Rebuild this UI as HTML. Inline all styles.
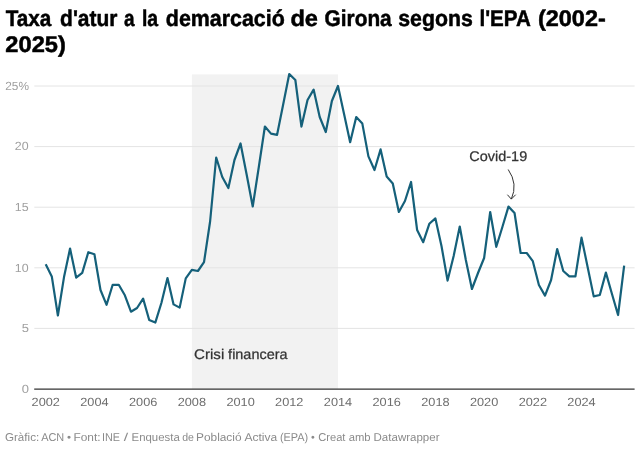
<!DOCTYPE html>
<html><head><meta charset="utf-8"><title>Taxa d'atur a la demarcació de Girona</title>
<style>
html,body{margin:0;padding:0;background:#fff;}
body{width:640px;height:450px;position:relative;overflow:hidden;font-family:"Liberation Sans",sans-serif;}
svg{position:absolute;left:0;top:0;}
text{font-family:"Liberation Sans",sans-serif;text-rendering:geometricPrecision;}
</style></head><body>
<svg width="640" height="450" viewBox="0 0 640 450">
<rect x="191.9" y="74.4" width="146.1" height="314.6" fill="#f2f2f2"/>
<line x1="34.3" x2="634.6" y1="86.0" y2="86.0" stroke="#e4e4e4" stroke-width="1"/>
<line x1="34.3" x2="634.6" y1="146.6" y2="146.6" stroke="#e4e4e4" stroke-width="1"/>
<line x1="34.3" x2="634.6" y1="207.2" y2="207.2" stroke="#e4e4e4" stroke-width="1"/>
<line x1="34.3" x2="634.6" y1="267.8" y2="267.8" stroke="#e4e4e4" stroke-width="1"/>
<line x1="34.3" x2="634.6" y1="328.4" y2="328.4" stroke="#e4e4e4" stroke-width="1"/>
<line x1="34.2" x2="634.6" y1="389.2" y2="389.2" stroke="#333" stroke-width="1.2"/>
<path d="M45.7,264.3 L51.79,276.4 L57.88,315.5 L63.97,277.3 L70.06,248.6 L76.15,277.6 L82.23,272.9 L88.32,252.2 L94.41,254.3 L100.5,290.0 L106.59,304.8 L112.68,284.8 L118.77,284.8 L124.86,295.3 L130.95,311.7 L137.04,308.0 L143.12,298.6 L149.21,320.0 L155.3,322.6 L161.39,303.0 L167.48,278.0 L173.57,304.4 L179.66,307.6 L185.75,278.4 L191.84,269.8 L197.93,271.0 L204.01,262.2 L210.1,221.5 L216.19,157.5 L222.28,177.0 L228.37,188.0 L234.46,160.0 L240.55,143.5 L246.64,174.5 L252.73,206.5 L258.81,167.0 L264.9,126.5 L270.99,133.6 L277.08,134.8 L283.17,104.5 L289.26,74.0 L295.35,80.0 L301.44,126.6 L307.53,100.0 L313.62,89.6 L319.7,117.0 L325.79,132.0 L331.88,101.0 L337.97,86.0 L344.06,114.0 L350.15,142.2 L356.24,117.0 L362.33,123.6 L368.42,156.4 L374.51,170.0 L380.6,149.4 L386.68,176.6 L392.77,183.5 L398.86,212.0 L404.95,201.0 L411.04,182.0 L417.13,230.0 L423.22,242.2 L429.31,223.8 L435.4,218.4 L441.49,246.0 L447.57,280.6 L453.66,256.0 L459.75,226.5 L465.84,260.0 L471.93,289.0 L478.02,273.0 L484.11,258.0 L490.2,212.0 L496.29,246.8 L502.38,227.0 L508.46,206.6 L514.55,213.0 L520.64,253.0 L526.73,253.0 L532.82,261.2 L538.91,285.0 L545.0,295.6 L551.09,280.0 L557.18,249.0 L563.27,271.0 L569.35,276.4 L575.44,276.4 L581.53,237.6 L587.62,267.0 L593.71,296.4 L599.8,295.0 L605.89,272.6 L611.98,294.0 L618.07,315.0 L624.16,265.6" fill="none" stroke="#15607a" stroke-width="2.2" stroke-linejoin="round" stroke-linecap="butt"/>
<path d="M508.2,169.5 Q518.2,184 511.3,199.1" fill="none" stroke="#333" stroke-width="1"/>
<path d="M507.4,194.7 L511.3,199.1 L515.7,194.7" fill="none" stroke="#333" stroke-width="1"/>
<text id="t1" y="25.7" font-size="22.7" font-weight="700" fill="#000" stroke="#000" stroke-width="0.5" stroke-linejoin="round"><tspan id="t1_0" x="5.70" textLength="45.57" lengthAdjust="spacingAndGlyphs">Taxa</tspan> <tspan id="t1_1" x="60.11" textLength="57.32" lengthAdjust="spacingAndGlyphs">d'atur</tspan> <tspan id="t1_2" x="124.00" textLength="10.53" lengthAdjust="spacingAndGlyphs">a</tspan> <tspan id="t1_3" x="141.91" textLength="16.19" lengthAdjust="spacingAndGlyphs">la</tspan> <tspan id="t1_4" x="165.85" textLength="118.96" lengthAdjust="spacingAndGlyphs">demarcació</tspan> <tspan id="t1_5" x="290.44" textLength="27.58" lengthAdjust="spacingAndGlyphs">de</tspan> <tspan id="t1_6" x="324.55" textLength="67.16" lengthAdjust="spacingAndGlyphs">Girona</tspan> <tspan id="t1_7" x="398.22" textLength="74.55" lengthAdjust="spacingAndGlyphs">segons</tspan> <tspan id="t1_8" x="479.44" textLength="50.61" lengthAdjust="spacingAndGlyphs">l'EPA</tspan> <tspan id="t1_9" x="537.97" textLength="67.80" lengthAdjust="spacingAndGlyphs">(2002-</tspan></text>
<text id="t2" y="51.9" font-size="22.7" font-weight="700" fill="#000" stroke="#000" stroke-width="0.5" stroke-linejoin="round"><tspan id="t2_0" x="5.39" textLength="60.52" lengthAdjust="spacingAndGlyphs">2025)</tspan></text>
<text id="ft" y="441.2" font-size="11.4" font-weight="400" fill="#8a8a8a"><tspan id="ft_0" x="4.98" textLength="34.19" lengthAdjust="spacingAndGlyphs">Gràfic:</tspan> <tspan id="ft_1" x="41.21" textLength="23.05" lengthAdjust="spacingAndGlyphs">ACN</tspan> <tspan id="ft_2" x="67.04" textLength="4.06" lengthAdjust="spacingAndGlyphs">•</tspan> <tspan id="ft_3" x="73.45" textLength="27.09" lengthAdjust="spacingAndGlyphs">Font:</tspan> <tspan id="ft_4" x="102.04" textLength="18.02" lengthAdjust="spacingAndGlyphs">INE</tspan> <tspan id="ft_5" x="123.76" textLength="4.38" lengthAdjust="spacingAndGlyphs">/</tspan> <tspan id="ft_6" x="131.60" textLength="48.13" lengthAdjust="spacingAndGlyphs">Enquesta</tspan> <tspan id="ft_7" x="182.16" textLength="11.72" lengthAdjust="spacingAndGlyphs">de</tspan> <tspan id="ft_8" x="196.05" textLength="45.48" lengthAdjust="spacingAndGlyphs">Població</tspan> <tspan id="ft_9" x="244.42" textLength="32.77" lengthAdjust="spacingAndGlyphs">Activa</tspan> <tspan id="ft_10" x="279.89" textLength="28.25" lengthAdjust="spacingAndGlyphs">(EPA)</tspan> <tspan id="ft_11" x="311.11" textLength="3.78" lengthAdjust="spacingAndGlyphs">•</tspan> <tspan id="ft_12" x="318.27" textLength="27.17" lengthAdjust="spacingAndGlyphs">Creat</tspan> <tspan id="ft_13" x="348.78" textLength="21.87" lengthAdjust="spacingAndGlyphs">amb</tspan> <tspan id="ft_14" x="373.55" textLength="65.95" lengthAdjust="spacingAndGlyphs">Datawrapper</tspan></text>
<text id="a1" y="358.5" font-size="14.0" font-weight="400" fill="#333" stroke="#333" stroke-width="0.25" stroke-linejoin="round"><tspan id="a1_0" x="194.10" textLength="30.17" lengthAdjust="spacingAndGlyphs">Crisi</tspan> <tspan id="a1_1" x="228.14" textLength="59.38" lengthAdjust="spacingAndGlyphs">financera</tspan></text>
<text id="a2" y="161.0" font-size="14.0" font-weight="400" fill="#333" stroke="#333" stroke-width="0.25" stroke-linejoin="round"><tspan id="a2_0" x="469.33" textLength="57.88" lengthAdjust="spacingAndGlyphs">Covid-19</tspan></text>
<text id="y25" y="89.9" font-size="11.8" font-weight="400" fill="#a0a0a0"><tspan id="y25_0" x="5.23" textLength="23.75" lengthAdjust="spacingAndGlyphs">25%</tspan></text>
<text id="y20" y="150.4" font-size="11.8" font-weight="400" fill="#a0a0a0"><tspan id="y20_0" x="14.82" textLength="13.82" lengthAdjust="spacingAndGlyphs">20</tspan></text>
<text id="y0" y="392.8" font-size="11.8" font-weight="400" fill="#a0a0a0"><tspan id="y0_0" x="21.65" textLength="7.21" lengthAdjust="spacingAndGlyphs">0</tspan></text>
<text id="x0" y="406.2" font-size="11.8" font-weight="400" fill="#6e6e6e"><tspan id="x0_0" x="31.56" textLength="28.34" lengthAdjust="spacingAndGlyphs">2002</tspan></text>
<text id="y15" y="211.0" font-size="11.8" font-weight="400" fill="#a0a0a0"><tspan id="y15_0" x="14.82" textLength="13.82" lengthAdjust="spacingAndGlyphs">15</tspan></text>
<text id="y10" y="271.6" font-size="11.8" font-weight="400" fill="#a0a0a0"><tspan id="y10_0" x="14.82" textLength="13.82" lengthAdjust="spacingAndGlyphs">10</tspan></text>
<text id="y5" y="332.2" font-size="11.8" font-weight="400" fill="#a0a0a0"><tspan id="y5_0" x="21.65" textLength="7.21" lengthAdjust="spacingAndGlyphs">5</tspan></text>
<text id="x2004" y="406.2" font-size="11.8" font-weight="400" fill="#6e6e6e"><tspan id="x2004_0" x="80.27" textLength="28.34" lengthAdjust="spacingAndGlyphs">2004</tspan></text>
<text id="x2006" y="406.2" font-size="11.8" font-weight="400" fill="#6e6e6e"><tspan id="x2006_0" x="128.98" textLength="28.34" lengthAdjust="spacingAndGlyphs">2006</tspan></text>
<text id="x2008" y="406.2" font-size="11.8" font-weight="400" fill="#6e6e6e"><tspan id="x2008_0" x="177.69" textLength="28.34" lengthAdjust="spacingAndGlyphs">2008</tspan></text>
<text id="x2010" y="406.2" font-size="11.8" font-weight="400" fill="#6e6e6e"><tspan id="x2010_0" x="226.40" textLength="28.34" lengthAdjust="spacingAndGlyphs">2010</tspan></text>
<text id="x2012" y="406.2" font-size="11.8" font-weight="400" fill="#6e6e6e"><tspan id="x2012_0" x="275.11" textLength="28.34" lengthAdjust="spacingAndGlyphs">2012</tspan></text>
<text id="x2014" y="406.2" font-size="11.8" font-weight="400" fill="#6e6e6e"><tspan id="x2014_0" x="323.82" textLength="28.34" lengthAdjust="spacingAndGlyphs">2014</tspan></text>
<text id="x2016" y="406.2" font-size="11.8" font-weight="400" fill="#6e6e6e"><tspan id="x2016_0" x="372.53" textLength="28.34" lengthAdjust="spacingAndGlyphs">2016</tspan></text>
<text id="x2018" y="406.2" font-size="11.8" font-weight="400" fill="#6e6e6e"><tspan id="x2018_0" x="421.24" textLength="28.34" lengthAdjust="spacingAndGlyphs">2018</tspan></text>
<text id="x2020" y="406.2" font-size="11.8" font-weight="400" fill="#6e6e6e"><tspan id="x2020_0" x="469.95" textLength="28.34" lengthAdjust="spacingAndGlyphs">2020</tspan></text>
<text id="x2022" y="406.2" font-size="11.8" font-weight="400" fill="#6e6e6e"><tspan id="x2022_0" x="518.66" textLength="28.34" lengthAdjust="spacingAndGlyphs">2022</tspan></text>
<text id="x2024" y="406.2" font-size="11.8" font-weight="400" fill="#6e6e6e"><tspan id="x2024_0" x="567.37" textLength="28.34" lengthAdjust="spacingAndGlyphs">2024</tspan></text>
</svg>
</body></html>
